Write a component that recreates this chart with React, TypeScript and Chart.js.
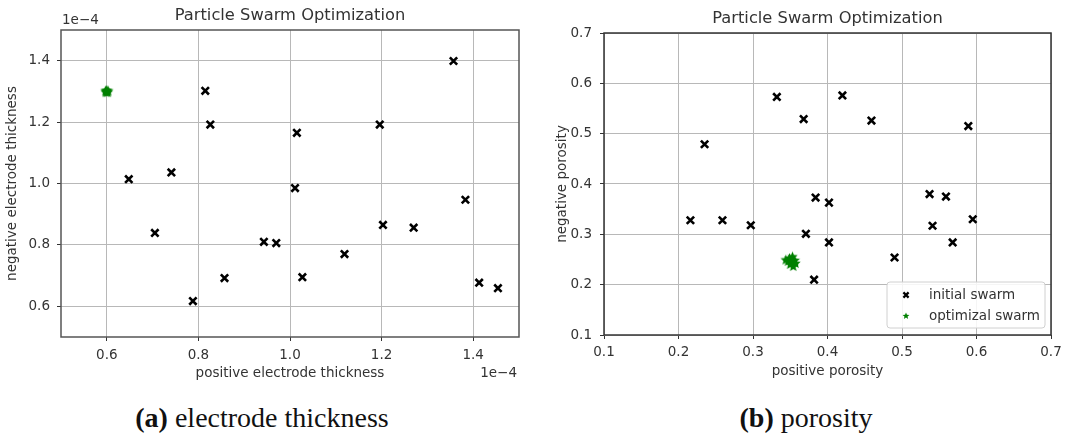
import React, { useEffect, useRef } from 'react';
import { Chart, registerables } from 'chart.js';

Chart.register(...registerables);

// ---- electrode thickness (axis units of 1e-4) ----
const thickPosInitial = [0.815, 0.826, 0.648, 0.741, 1.015, 1.011, 1.196, 1.357, 1.383, 0.705, 0.788, 0.857, 0.943, 0.970, 1.027, 1.119, 1.203, 1.270, 1.413, 1.454];
const thickNegInitial = [1.302, 1.192, 1.014, 1.036, 1.165, 0.985, 1.192, 1.399, 0.947, 0.839, 0.617, 0.692, 0.810, 0.806, 0.695, 0.770, 0.865, 0.856, 0.677, 0.659];
const thickPosOptimal = [0.600, 0.598, 0.602, 0.600, 0.597, 0.603];
const thickNegOptimal = [1.299, 1.296, 1.296, 1.303, 1.301, 1.301];
const thickTicks = [0.6, 0.8, 1.0, 1.2, 1.4];
const thickRange: [number, number] = [0.5, 1.5];
const thickExponent = '1e\u22124';

// ---- porosity ----
const poroPosInitial = [0.235, 0.332, 0.368, 0.420, 0.459, 0.589, 0.537, 0.559, 0.384, 0.402, 0.216, 0.259, 0.297, 0.371, 0.402, 0.382, 0.490, 0.541, 0.568, 0.595];
const poroNegInitial = [0.479, 0.573, 0.529, 0.576, 0.526, 0.515, 0.380, 0.375, 0.373, 0.363, 0.328, 0.328, 0.318, 0.301, 0.284, 0.210, 0.254, 0.317, 0.284, 0.330];
const poroPosOptimal = [0.344, 0.349, 0.353, 0.356, 0.352, 0.350, 0.354, 0.347, 0.357];
const poroNegOptimal = [0.249, 0.252, 0.255, 0.248, 0.244, 0.240, 0.236, 0.246, 0.242];
const poroTicks = [0.1, 0.2, 0.3, 0.4, 0.5, 0.6, 0.7];
const poroRange: [number, number] = [0.1, 0.7];

const seriesNames = ['initial swarm', 'optimizal swarm'];
const chartTitle = 'Particle Swarm Optimization';

const FONT = '"DejaVu Sans", sans-serif';
const TEXT = '#333333';
const GREEN = '#008000';

function makeStar(r: number, color: string): HTMLCanvasElement {
  const size = Math.ceil(r * 2 + 2);
  const c = document.createElement('canvas');
  c.width = size;
  c.height = size;
  const ctx = c.getContext('2d')!;
  ctx.fillStyle = color;
  ctx.beginPath();
  const cx = size / 2;
  const cy = size / 2;
  for (let i = 0; i < 10; i++) {
    const rad = i % 2 === 0 ? r : r * 0.45;
    const a = -Math.PI / 2 + (i * Math.PI) / 5;
    const px = cx + rad * Math.cos(a);
    const py = cy + rad * Math.sin(a);
    if (i === 0) ctx.moveTo(px, py);
    else ctx.lineTo(px, py);
  }
  ctx.closePath();
  ctx.fill();
  return c;
}

const zip = (xs: number[], ys: number[]) => xs.map((x, i) => ({ x, y: ys[i] }));

type Area = { left: number; top: number; right: number; bottom: number };

interface PanelSpec {
  width: number;
  height: number;
  area: Area;
  xRange: [number, number];
  yRange: [number, number];
  xTicks: number[];
  yTicks: number[];
  xLabel: string;
  yLabel: string;
  xTitlePad: number;
  yTitlePad: number;
  xTickPad: number;
  yTickPad: number;
  spine: string;
  exponent?: string;
  legend?: boolean;
  xs: number[];
  ys: number[];
  optXs: number[];
  optYs: number[];
}

function drawCross(ctx: CanvasRenderingContext2D, x: number, y: number, h: number) {
  ctx.beginPath();
  ctx.moveTo(x - h, y - h);
  ctx.lineTo(x + h, y + h);
  ctx.moveTo(x - h, y + h);
  ctx.lineTo(x + h, y - h);
  ctx.stroke();
}

function decorations(spec: PanelSpec, legendStar: HTMLCanvasElement) {
  return {
    id: 'decorations',
    afterDraw(chart: Chart) {
      const ctx = chart.ctx;
      const a = chart.chartArea;
      ctx.save();
      // axes frame
      ctx.strokeStyle = spec.spine;
      ctx.lineWidth = 1.5;
      ctx.strokeRect(a.left, a.top, a.right - a.left, a.bottom - a.top);

      // title
      ctx.fillStyle = TEXT;
      ctx.font = `16.3px ${FONT}`;
      ctx.textAlign = 'center';
      ctx.textBaseline = 'middle';
      ctx.fillText(chartTitle, (a.left + a.right) / 2, a.top - 14);

      // scientific exponent labels
      if (spec.exponent) {
        ctx.font = `13.5px ${FONT}`;
        ctx.textAlign = 'left';
        ctx.fillText(spec.exponent, a.left + 1, a.top - 10);
        ctx.textAlign = 'right';
        ctx.fillText(spec.exponent, a.right - 2, a.bottom + 36);
      }

      // legend in the lower right corner
      if (spec.legend) {
        const bw = 158;
        const bh = 46;
        const bx = a.right - 6 - bw;
        const by = a.bottom - 7 - bh;
        ctx.beginPath();
        ctx.roundRect(bx, by, bw, bh, 3);
        ctx.fillStyle = 'rgba(255,255,255,0.85)';
        ctx.fill();
        ctx.strokeStyle = '#d0d0d0';
        ctx.lineWidth = 1;
        ctx.stroke();
        const mx = bx + 19;
        const r1 = by + 13;
        const r2 = by + 34;
        ctx.strokeStyle = '#000';
        ctx.lineWidth = 2.2;
        drawCross(ctx, mx, r1, 2.6);
        ctx.drawImage(legendStar, mx - legendStar.width / 2, r2 - legendStar.height / 2);
        ctx.fillStyle = TEXT;
        ctx.font = `13.5px ${FONT}`;
        ctx.textAlign = 'left';
        ctx.textBaseline = 'middle';
        ctx.fillText(seriesNames[0], bx + 42, r1);
        ctx.fillText(seriesNames[1], bx + 42, r2);
      }
      ctx.restore();
    },
  };
}

function Panel({ spec, left }: { spec: PanelSpec; left: number }) {
  const ref = useRef<HTMLCanvasElement>(null);

  useEffect(() => {
    const canvas = ref.current;
    if (!canvas) return;
    const star = makeStar(5.5, GREEN);
    const legendStar = makeStar(3.6, GREEN);
    const font = { family: FONT, size: 13.5 };
    const a = spec.area;

    const chart = new Chart(canvas, {
      type: 'scatter',
      data: {
        datasets: [
          {
            label: seriesNames[0],
            data: zip(spec.xs, spec.ys),
            pointStyle: 'crossRot',
            pointRadius: 5.2,
            pointBorderWidth: 2.6,
            borderColor: '#000',
            backgroundColor: '#000',
          },
          {
            label: seriesNames[1],
            data: zip(spec.optXs, spec.optYs),
            pointStyle: star,
            pointRadius: 5.5,
            borderColor: GREEN,
            backgroundColor: GREEN,
          },
        ],
      },
      options: {
        responsive: false,
        animation: false,
        devicePixelRatio: 1,
        events: [],
        layout: { padding: { left: 0, top: a.top, right: spec.width - a.right, bottom: 0 } },
        plugins: {
          legend: { display: false },
          title: { display: false },
          tooltip: { enabled: false },
        },
        scales: {
          x: {
            type: 'linear',
            min: spec.xRange[0],
            max: spec.xRange[1],
            afterBuildTicks: (s: any) => {
              s.ticks = spec.xTicks.map((v) => ({ value: v }));
            },
            afterFit: (s: any) => {
              s.height = spec.height - a.bottom;
            },
            grid: { color: '#b8b8b8', lineWidth: 1, tickLength: 4, tickColor: '#333', drawTicks: true },
            border: { display: false },
            ticks: {
              padding: spec.xTickPad,
              font,
              color: TEXT,
              autoSkip: false,
              maxRotation: 0,
              callback: (v: any) => Number(v).toFixed(1),
            },
            title: { display: true, text: spec.xLabel, font, color: TEXT, padding: { top: 0, bottom: spec.xTitlePad } },
          },
          y: {
            type: 'linear',
            min: spec.yRange[0],
            max: spec.yRange[1],
            afterBuildTicks: (s: any) => {
              s.ticks = spec.yTicks.map((v) => ({ value: v }));
            },
            afterFit: (s: any) => {
              s.width = a.left;
            },
            grid: { color: '#b8b8b8', lineWidth: 1, tickLength: 4, tickColor: '#333', drawTicks: true },
            border: { display: false },
            ticks: {
              padding: spec.yTickPad,
              font,
              color: TEXT,
              autoSkip: false,
              callback: (v: any) => Number(v).toFixed(1),
            },
            title: { display: true, text: spec.yLabel, font, color: TEXT, padding: { top: spec.yTitlePad, bottom: 0 } },
          },
        },
      },
      plugins: [decorations(spec, legendStar)],
    } as any);

    return () => chart.destroy();
  }, [spec]);

  return (
    <canvas
      ref={ref}
      width={spec.width}
      height={spec.height}
      style={{ position: 'absolute', left, top: 0, width: spec.width, height: spec.height }}
    />
  );
}

const thicknessSpec: PanelSpec = {
  width: 540,
  height: 390,
  area: { left: 61, top: 30, right: 519, bottom: 337 },
  xRange: thickRange,
  yRange: thickRange,
  xTicks: thickTicks,
  yTicks: thickTicks,
  xLabel: 'positive electrode thickness',
  yLabel: 'negative electrode thickness',
  xTitlePad: 8,
  yTitlePad: 4,
  xTickPad: 6,
  yTickPad: 7,
  spine: '#555555',
  exponent: thickExponent,
  xs: thickPosInitial,
  ys: thickNegInitial,
  optXs: thickPosOptimal,
  optYs: thickNegOptimal,
};

const porositySpec: PanelSpec = {
  width: 541,
  height: 390,
  area: { left: 64, top: 33, right: 511, bottom: 335 },
  xRange: poroRange,
  yRange: poroRange,
  xTicks: poroTicks,
  yTicks: poroTicks,
  xLabel: 'positive porosity',
  yLabel: 'negative porosity',
  xTitlePad: 10,
  yTitlePad: 14,
  xTickPad: 5,
  yTickPad: 8,
  spine: '#333333',
  legend: true,
  xs: poroPosInitial,
  ys: poroNegInitial,
  optXs: poroPosOptimal,
  optYs: poroNegOptimal,
};

const captionStyle: React.CSSProperties = {
  position: 'absolute',
  top: 404,
  width: 400,
  textAlign: 'center',
  fontFamily: '"Liberation Serif", "Times New Roman", serif',
  fontSize: 28,
  lineHeight: '28px',
  color: '#111',
  whiteSpace: 'nowrap',
};

export default function App() {
  return (
    <div style={{ position: 'absolute', left: 0, top: 0, width: 1081, height: 438, background: '#fff', overflow: 'hidden' }}>
      <Panel spec={thicknessSpec} left={0} />
      <Panel spec={porositySpec} left={540} />
      <div style={{ ...captionStyle, left: 262 - 200 }}>
        <b>(a)</b> electrode thickness
      </div>
      <div style={{ ...captionStyle, left: 806 - 200 }}>
        <b>(b)</b> porosity
      </div>
    </div>
  );
}
